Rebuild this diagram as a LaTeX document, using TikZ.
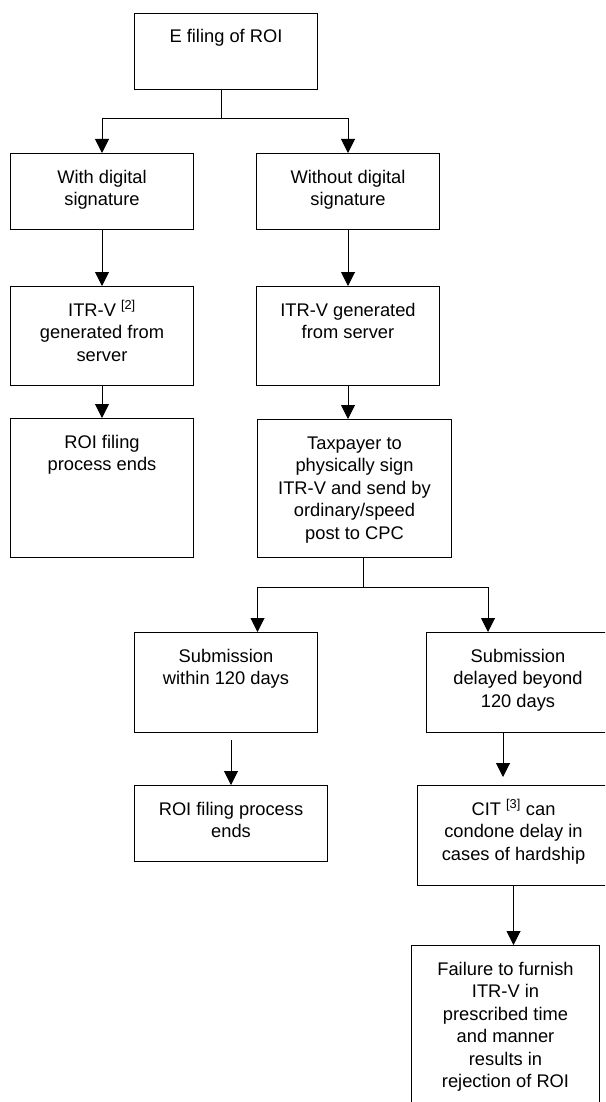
\documentclass[tikz,border=0pt]{standalone}
\usepackage{fontspec}
\setmainfont{Liberation Sans}
\usetikzlibrary{arrows.meta}
\newcommand{\boxtxt}[3]{\parbox[t][#2][t]{#1}{\centering\rule{0pt}{29.5pt}#3}}

\begin{document}
\begin{tikzpicture}[x=1pt, y=-1pt,
    box/.style={draw, line width=1pt, inner sep=0pt, anchor=north west,
        font=\fontsize{18.3pt}{22.5pt}\selectfont},
    arr/.style={line width=1pt, -{Triangle[width=14pt,length=14pt]}}]
    \clip (0,0) rectangle (605,1102);
    \useasboundingbox (0,0) rectangle (605,1102);
    \node[box] (e) at (134, 13) {\boxtxt{183pt}{76pt}{E filing of ROI}};
    \node[box] (w) at (10, 153) {\boxtxt{183pt}{76pt}{With digital\\signature}};
    \node[box] (wo) at (256, 153) {\boxtxt{183pt}{76pt}{Without digital\\signature}};
    \node[box] (v1) at (10, 286) {\boxtxt{183pt}{99pt}{ITR-V \textsuperscript{[2]}\\generated from\\server}};
    \node[box] (v2) at (256, 286) {\boxtxt{183pt}{99pt}{ITR-V generated\\from server}};
    \node[box] (r1) at (10, 418) {\boxtxt{183pt}{139pt}{ROI filing\\process ends}};
    \node[box] (t) at (257, 419) {\boxtxt{194pt}{138pt}{Taxpayer to\\physically sign\\ITR-V and send by\\ordinary/speed\\post to CPC}};
    \node[box] (s1) at (134, 632) {\boxtxt{183pt}{100pt}{Submission\\within 120 days}};
    \node[box] (s2) at (426, 632) {\boxtxt{183pt}{100pt}{Submission\\delayed beyond\\120 days}};
    \node[box] (r2) at (134, 785) {\boxtxt{193pt}{76pt}{ROI filing process\\ends}};
    \node[box] (c) at (417, 785) {\boxtxt{192pt}{100pt}{CIT \textsuperscript{[3]} can\\condone delay in\\cases of hardship}};
    \node[box] (f) at (411, 945) {\boxtxt{188pt}{180pt}{Failure to furnish\\ITR-V in\\prescribed time\\and manner\\results in\\rejection of ROI}};
    \coordinate (j1) at (221, 119);
    \coordinate (j2) at (363, 587);
    \draw [line width=1pt] (j1 |- e.south) -- (j1);
    \draw [arr] (j1) -| (w);
    \draw [arr] (j1) -| (wo);
    \draw [arr] (w) -- (v1);
    \draw [arr] (wo) -- (v2);
    \draw [arr] (v1) -- (r1);
    \draw [arr] (v2.south) -- (v2.south |- t.north);
    \draw [line width=1pt] (j2 |- t.south) -- (j2);
    \draw [arr] (j2) -| ([xshift=31.5pt]s1.north);
    \draw [arr] (j2) -| ([xshift=-30pt]s2.north);
    \draw [arr, shorten <=7pt] (r2.north |- s1.south) -- (r2.north);
    \draw [arr, shorten >=8pt] ([xshift=-15pt]s2.south) -- ([xshift=-15pt]s2.south |- c.north);
    \draw [arr] (c.south) -- (c.south |- f.north);
\end{tikzpicture}
\end{document}
